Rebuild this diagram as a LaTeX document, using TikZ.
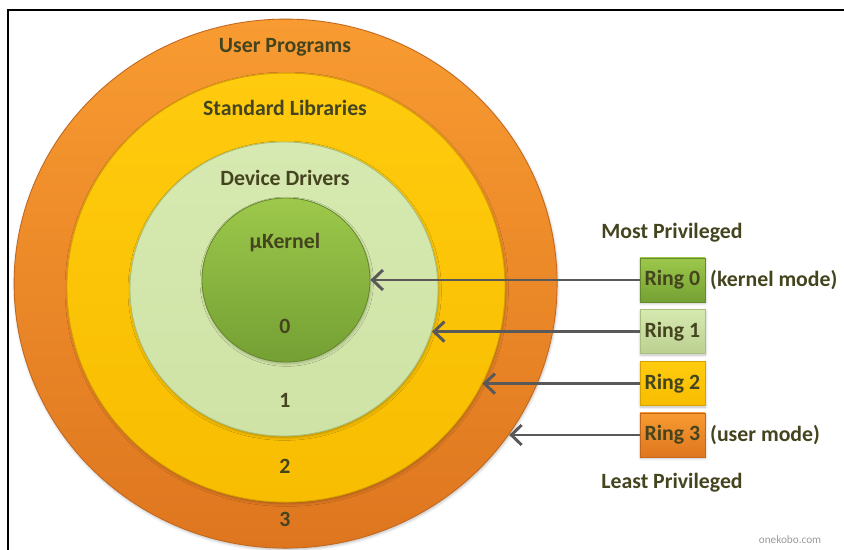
\documentclass[tikz,border=0pt]{standalone}
\usepackage{fontspec}
\setmainfont{Carlito}
\usetikzlibrary{arrows.meta, shapes.geometric, positioning, shadows.blur}

\definecolor{inktext}{HTML}{44441F}
\definecolor{arrowgray}{HTML}{595959}
\definecolor{orangetop}{HTML}{F89B31}
\definecolor{orangebot}{HTML}{DE761F}
\definecolor{orangeline}{HTML}{C2661C}
\definecolor{yellowtop}{HTML}{FFCB0E}
\definecolor{yellowbot}{HTML}{F8BD00}
\definecolor{yellowline}{HTML}{D6A200}
\definecolor{paletop}{HTML}{D6E9B0}
\definecolor{palebot}{HTML}{CFE3A6}
\definecolor{paleline}{HTML}{A9BF7C}
\definecolor{greentop}{HTML}{9DC84B}
\definecolor{greenbot}{HTML}{74A034}
\definecolor{greenline}{HTML}{66892C}

\begin{document}
\begin{tikzpicture}[
    ring/.style={ellipse, inner sep=0pt, draw=#1, line width=0.6pt,
                 blur shadow={shadow xshift=0.5pt, shadow yshift=-1.2pt,
                              shadow opacity=25}},
    lbl/.style={font=\bfseries\fontsize{15.5}{17}\selectfont, text=inktext},
    ringbox/.style={rectangle, inner sep=0.5pt, draw=#1, line width=0.5pt,
                    minimum width=1.625cm, minimum height=1.1cm,
                    font=\bfseries\fontsize{15.5}{17}\selectfont, text=inktext,
                    blur shadow={shadow xshift=0.5pt, shadow yshift=-1pt,
                                 shadow opacity=25}},
    ptr/.style={-{Straight Barb[length=2.6mm, width=5mm]},
                line width=2.1pt, draw=arrowgray}
  ]
  \useasboundingbox (0,0) rectangle (21.1,-13.75);
  % frame
  \draw[line width=1.4pt] (0.21,-13.75) -- (0.21,-0.25) -- (21.1,-0.25);

  % rings, outside in
  \node[ring=orangeline, top color=orangetop, bottom color=orangebot,
        minimum width=13.575cm, minimum height=13.225cm]
        (user) at (7.14,-7.09) {};
  \node[ring=yellowline, top color=yellowtop, bottom color=yellowbot,
        minimum width=10.95cm, minimum height=10.725cm]
        (stdlib) at (7.15,-7.19) {};
  \node[ring=paleline, top color=paletop, bottom color=palebot,
        minimum width=7.7cm, minimum height=7.35cm]
        (drivers) at (7.10,-7.225) {};
  \node[ring=greenline, top color=greentop, bottom color=greenbot,
        minimum width=4.2cm, minimum height=4.1cm]
        (kernel) at (7.15,-7.0) {};

  % ring texts
  \node[lbl] (userTxt)    at (7.125,-1.175) {User Programs};
  \node[lbl] (stdlibTxt)  at (7.125,-2.7)   {Standard Libraries};
  \node[lbl] (driversTxt) at (7.125,-4.45)  {Device Drivers};
  \node[lbl] (kernelTxt)  at (7.125,-6.075) {µKernel};
  \node[lbl] (lvl0) at (7.125,-8.15)  {0};
  \node[lbl] (lvl1) at (7.125,-10.0)  {1};
  \node[lbl] (lvl2) at (7.125,-11.65) {2};
  \node[lbl] (lvl3) at (7.125,-12.975){3};

  % legend
  \node[lbl] (most)  at (16.8,-5.825)  {Most Privileged};
  \node[ringbox=greenline, top color=greentop, bottom color=greenbot]
        (ring0) at (16.81,-7.0)   {Ring 0};
  \node[ringbox=paleline, top color=paletop, bottom color=paleline!60!paletop]
        (ring1) at (16.81,-8.29)  {Ring 1};
  \node[ringbox=yellowline, top color=yellowtop, bottom color=yellowbot]
        (ring2) at (16.81,-9.59)  {Ring 2};
  \node[ringbox=orangeline, top color=orangetop, bottom color=orangebot]
        (ring3) at (16.81,-10.875){Ring 3};
  \node[lbl, right=0pt of ring0] (kmode) {(kernel mode)};
  \node[lbl, right=0pt of ring3] (umode) {(user mode)};
  \node[lbl] (least) at (16.8,-12.075) {Least Privileged};

  % pointers
  \draw[ptr] (ring0.west) -- (kernel.east);
  \draw[ptr] (ring1.west) -- (ring1.west -| drivers.-16);
  \draw[ptr] (ring2.west) -- (ring2.west -| stdlib.-26);
  \draw[ptr] (ring3.west) -- (ring3.west -| user.-34.2);

  \node[font=\fontsize{8}{9}\selectfont, text=gray!80] (mark)
        at (19.75,-13.5) {onekobo.com};
\end{tikzpicture}
\end{document}
